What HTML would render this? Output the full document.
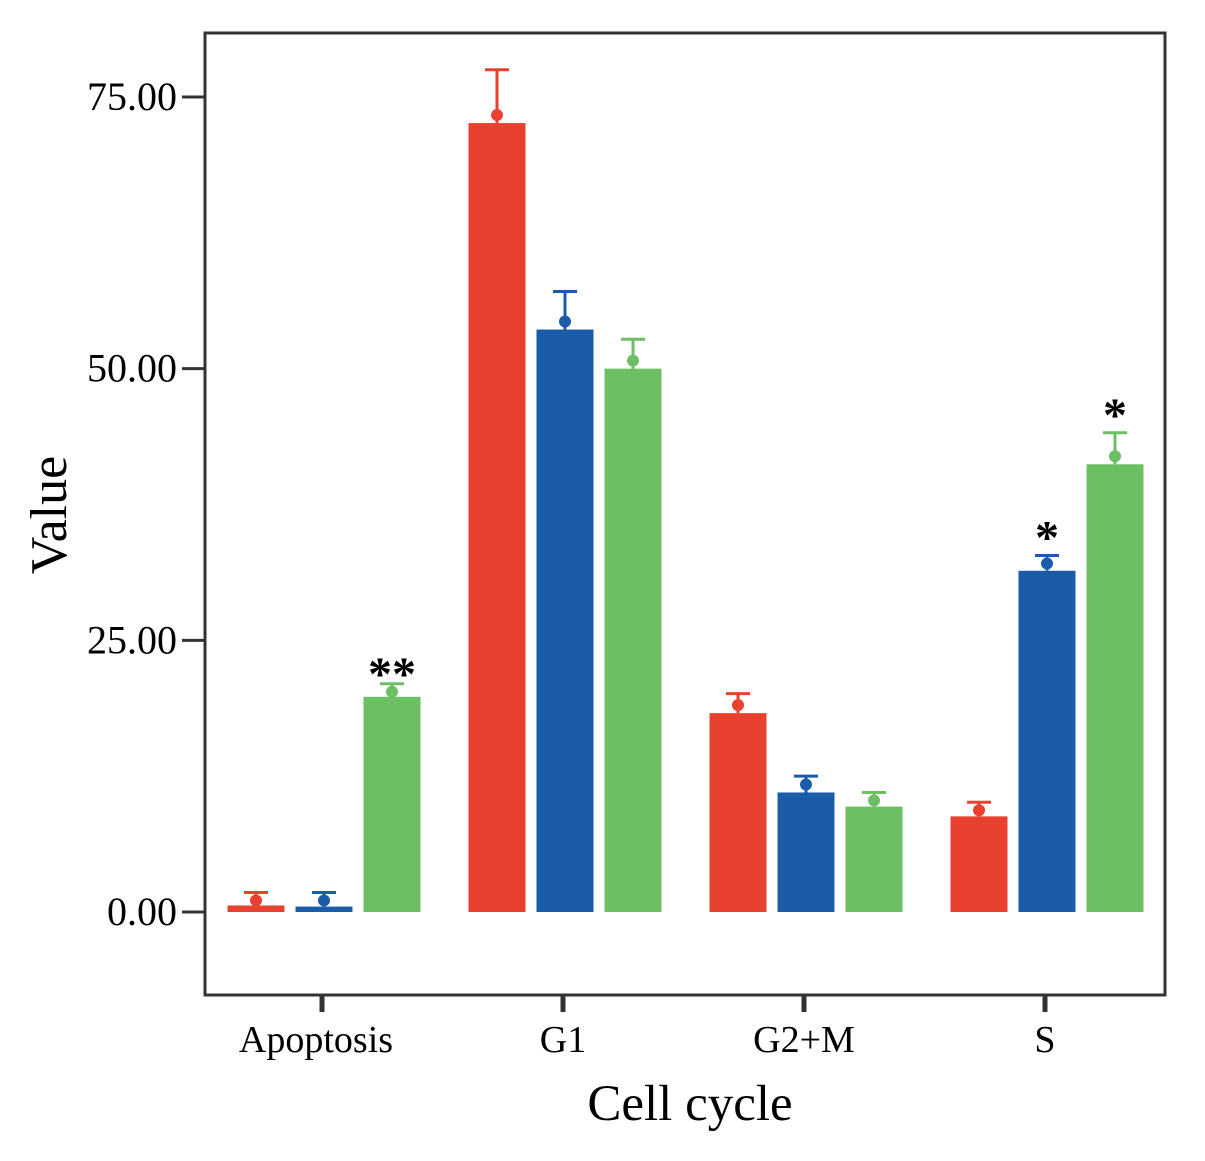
<!DOCTYPE html>
<html><head><meta charset="utf-8">
<style>
html,body{margin:0;padding:0;background:#fff;}
svg{display:block;font-family:"Liberation Serif",serif;}
</style></head>
<body>
<svg id="chart" width="1205" height="1161" viewBox="0 0 1205 1161">
<rect x="205" y="33" width="960" height="962" fill="none" stroke="#333" stroke-width="3"/>
<g id="yaxis"></g>
<g id="xaxis"></g>
<g id="bars"></g>
<text x="66" y="515" font-size="52" text-anchor="middle" transform="rotate(-90 66 515)">Value</text>
<text x="690" y="1120" font-size="51" text-anchor="middle">Cell cycle</text>
</svg>
<script>
const categories = ["Apoptosis","G1","G2+M","S"];
const seriesNames = ["control","group-b","group-c"];
const valuesRed = [0.6, 72.6, 18.3, 8.8];
const valuesBlue = [0.5, 53.6, 11.0, 31.4];
const valuesGreen = [19.8, 50.0, 9.7, 41.2];
const errRed = [1.8, 77.5, 20.1, 10.1];
const errBlue = [1.8, 57.1, 12.5, 32.8];
const errGreen = [21.0, 52.7, 11.0, 44.1];
const stars = [["","","**"],["","",""],["","",""],["","*","*"]];
const yTicks = [0, 25, 50, 75];
const yTickLabels = ["0.00","25.00","50.00","75.00"];

const NS="http://www.w3.org/2000/svg";
const colors=["#e8412f","#1b5ca9","#6cbf63"];
function yS(v){return 912 - v*10.867;}
function xC(i){return 322 + i*241;}
function mk(tag,attrs,parent){const e=document.createElementNS(NS,tag);for(const k in attrs)e.setAttribute(k,attrs[k]);parent.appendChild(e);return e;}
const ya=document.getElementById('yaxis'), xa=document.getElementById('xaxis'), bg=document.getElementById('bars');
yTicks.forEach((t,i)=>{
  const l=mk('line',{x1:182,x2:205,y1:yS(t),y2:yS(t),stroke:'#333','stroke-width':3},ya);
  
  
  const tx=mk('text',{x:177,y:yS(t)+13,'font-size':40,'text-anchor':'end'},ya);
  tx.textContent=yTickLabels[i];
  
  
});
categories.forEach((c,i)=>{
  const l=mk('line',{x1:xC(i),x2:xC(i),y1:995,y2:1012,stroke:'#333','stroke-width':5},xa);
  
  
  const tx=mk('text',{x:xC(i)-(i===0?6:0),y:1052,'font-size':38,'text-anchor':'middle'},xa);
  tx.textContent=c;
  
  
});
const vals=[valuesRed,valuesBlue,valuesGreen], errs=[errRed,errBlue,errGreen];
categories.forEach((c,i)=>{
  for(let s=0;s<3;s++){
    const cx=xC(i)+(s-1)*68 + 2;
    const w=57, v=vals[s][i], e=errs[s][i];
    const r=mk('rect',{x:cx-w/2,y:yS(v),width:w,height:yS(0)-yS(v),fill:colors[s]},bg);
    
    
    const el=mk('path',{d:`M${cx} ${yS(v)} V${yS(e)} M${cx-12} ${yS(e)} H${cx+12}`,stroke:colors[s],'stroke-width':3,fill:'none'},bg);
    
    
    const d=mk('circle',{cx:cx,cy:Math.max(yS(e)+8,yS(v)-8),r:6,fill:colors[s]},bg);
    
    
    if(stars[i][s]){
      const t=mk('text',{x:cx,y:yS(e)+(i===0?6:-2),'font-size':48,'text-anchor':'middle','font-weight':'bold'},bg);
      t.textContent=stars[i][s];
      
      
    }
  }
});
</script>
</body></html>
